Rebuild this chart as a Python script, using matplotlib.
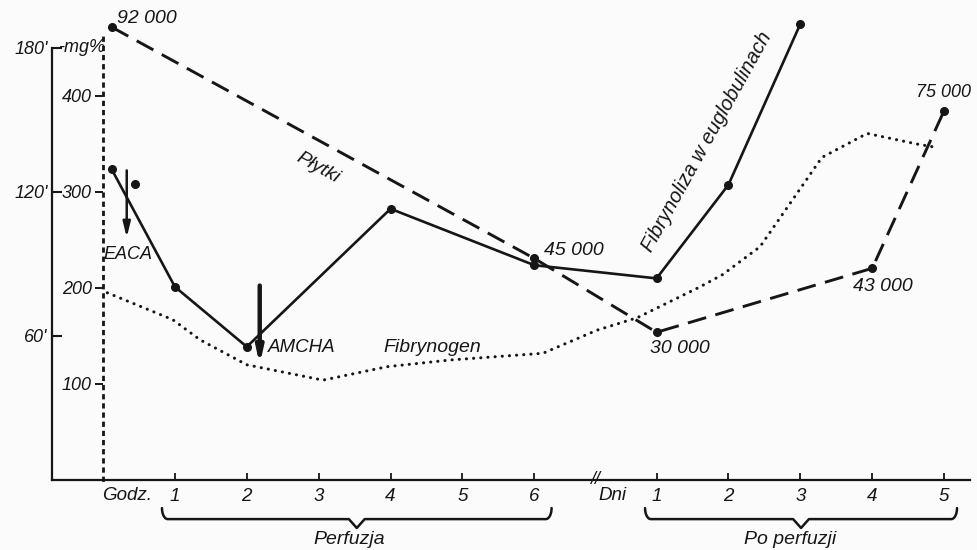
import matplotlib
matplotlib.use("Agg")
import matplotlib.pyplot as plt
import numpy as np

plt.rcParams["font.family"] = ["Liberation Sans", "DejaVu Sans"]
plt.rcParams["font.style"] = "italic"

INK = "#161616"
BG = "#fbfbfc"

# os czasu: godziny perfuzji, potem (po przerwie) dni po perfuzji
DAY0 = 6.7  # pozycja "dnia 0" w jednostkach godzinowych osi


def day(d):
    return DAY0 + d


HOUR_TICKS = [1, 2, 3, 4, 5, 6]
DAY_TICKS = [1, 2, 3, 4, 5]

# Fibrynoliza w euglobulinach (minuty)
FIB_T = [0.12, 1, 2, 4, 6, day(1), day(2), day(3)]
FIB_MIN = [129.5, 80.5, 55.5, 113, 89.5, 84, 123, 190]

# pojedynczy punkt przy strzalce EACA
EXTRA_T = [0.45]
EXTRA_MIN = [123.5]

# Plytki
PLT_T = [0.12, 6, day(1), day(4), day(5)]
PLT = [92000, 45000, 30000, 43000, 75000]
PLT_LABELS = ["92 000", "45 000", "30 000", "43 000", "75 000"]

# Fibrynogen (mg%)
FBG_T = [0.06, 0.97, 1.35, 2.0, 3.06, 3.95, 4.83, 6.12, 6.87, 7.43,
         8.3, 8.62, 9.14, 10.0, 10.63, 11.32, 11.55]
FBG_MG = [195, 167, 146, 120, 104, 118, 125, 132, 156, 169,
          201, 214, 243, 336, 361, 350, 347]

# leki: (nazwa, czas, od [min], do [min])
DRUGS = [("EACA", 0.33, 129, 101), ("AMCHA", 2.18, 81, 48)]

XMIN, XMAX = -0.71, 12.06
MIN_TOP = 200
MG_PER_MIN = 2.5
PLT_TOP = 97500


def brace(ax, x0, x1, y_top, y_line, y_tip, r=0.08, w=0.11):
    th = np.linspace(0, np.pi / 2, 10)
    lx = x0 + r * (1 - np.cos(th))
    ly = y_line + (y_top - y_line) * (1 - np.sin(th))
    rx = (x1 - r * (1 - np.cos(th)))[::-1]
    ry = ly[::-1]
    xm = (x0 + x1) / 2
    xs = np.concatenate([lx, [xm - w, xm, xm + w], rx])
    ys = np.concatenate([ly, [y_line, y_tip, y_line], ry])
    ax.plot(xs, ys, color=INK, lw=1.8, clip_on=False, solid_capstyle="round")
    return xm


fig = plt.figure(figsize=(9.77, 5.5), dpi=100)
fig.patch.set_facecolor(BG)
ax = fig.add_axes([0.0532, 0.1273, 0.9396, 0.8727])
ax.set_facecolor("none")
ax.set_xlim(XMIN, XMAX)
ax.set_ylim(0, MIN_TOP)

for s in ["top", "right"]:
    ax.spines[s].set_visible(False)
ax.spines["left"].set_bounds(0, 180)
ax.spines["left"].set_linewidth(1.6)
ax.spines["bottom"].set_linewidth(1.6)
ax.spines["left"].set_color(INK)
ax.spines["bottom"].set_color(INK)

# os minut (lewa)
ax.set_yticks([60, 120, 180])
ax.set_yticklabels(["60'", "120'", "180'"])
ax.tick_params(axis="y", direction="in", length=7, width=1.5, pad=3,
               labelsize=13, colors=INK)

# os czasu (dolna)
xt = HOUR_TICKS + [day(d) for d in DAY_TICKS]
ax.set_xticks(xt)
ax.set_xticklabels([str(h) for h in HOUR_TICKS] + [str(d) for d in DAY_TICKS])
ax.tick_params(axis="x", direction="in", length=5, width=1.3, pad=6,
               labelsize=13.5, colors=INK)

# os mg% (kropkowana, w chwili 0)
frac = (0 - XMIN) / (XMAX - XMIN)
sec = ax.secondary_yaxis(frac, functions=(lambda m: m * MG_PER_MIN,
                                          lambda g: g / MG_PER_MIN))
sec.spines["left"].set_linestyle((0, (0.9, 2.4)))
sec.spines["left"].set_linewidth(2.0)
sec.spines["left"].set_color(INK)
sec.spines["left"].set_bounds(0, 462)
sec.set_yticks([100, 200, 300, 400])
sec.tick_params(direction="out", length=6, width=1.4, pad=2,
                labelsize=13, colors=INK)
ax.text(-0.63, 180, "-mg%", fontsize=13, ha="left", va="center", color=INK)

ax_g = ax.twinx()
ax_g.set_ylim(0, MIN_TOP * MG_PER_MIN)
ax_g.axis("off")
ax_p = ax.twinx()
ax_p.set_ylim(0, PLT_TOP)
ax_p.axis("off")

# fibrynogen
ax_g.plot(FBG_T, FBG_MG, color=INK, lw=2.2, ls=(0, (0.05, 2.3)),
          dash_capstyle="round")
# fibrynoliza
ax.plot(FIB_T, FIB_MIN, color=INK, lw=1.9, marker="o", ms=5.5)
ax.plot(EXTRA_T, EXTRA_MIN, color=INK, ls="none", marker="o", ms=5.5)
# plytki
ax_p.plot(PLT_T, PLT, color=INK, lw=2.1, ls=(0, (6.5, 3.3)), marker="o", ms=5.5)

offs = [(4, 6), (7, 6), (-5, -12), (-14, -13), (-20, 13)]
for t, v, lab, o in zip(PLT_T, PLT, PLT_LABELS, offs):
    ax_p.annotate(lab, (t, v), xytext=o, textcoords="offset points",
                  fontsize=14 if lab != "75 000" else 13, ha="left",
                  va="center", color=INK)

# strzalki lekow
for i, (name, t, y0, y1) in enumerate(DRUGS):
    lw = 1.8 if i == 0 else 3.2
    hw = 0.22 if i == 0 else 0.2
    ax.annotate("", xy=(t, y1), xytext=(t, y0),
                arrowprops=dict(arrowstyle=f"-|>,head_length=0.9,head_width={hw}",
                                lw=lw, color=INK, shrinkA=0, shrinkB=0))
ax.text(0.35, 94, "EACA", fontsize=13, ha="center", va="center", color=INK)
ax.text(2.29, 55, "AMCHA", fontsize=13.5, ha="left", va="center", color=INK)
ax.text(4.58, 55, "Fibrynogen", fontsize=14, ha="center", va="center", color=INK)

ax.text(2.99, 130, "Płytki", fontsize=14, rotation=-29, ha="center",
        va="center", rotation_mode="anchor", color=INK)
ax.text(8.4, 141, "Fibrynoliza w euglobulinach", fontsize=14.5, rotation=61,
        ha="center", va="center", rotation_mode="anchor", color=INK)

# opisy osi czasu
ax.text(0.33, -6.3, "Godz.", fontsize=13.5, ha="center", va="center",
        color=INK, clip_on=False)
ax.text(7.08, -6.3, "Dni", fontsize=13.5, ha="center", va="center",
        color=INK, clip_on=False)
ax.text(6.84, 0, "//", fontsize=13, ha="center", va="center", color=INK,
        clip_on=False)

xm = brace(ax, 0.82, 6.24, -11.7, -16.3, -20)
ax.text(xm - 0.1, -25, "Perfuzja", fontsize=14, ha="center", va="center",
        color=INK, clip_on=False)
xm = brace(ax, 7.54, 11.88, -11.7, -16.3, -20)
ax.text(xm - 0.15, -25, "Po perfuzji", fontsize=14, ha="center", va="center",
        color=INK, clip_on=False)

fig.savefig("out.png", dpi=100, facecolor=BG)
